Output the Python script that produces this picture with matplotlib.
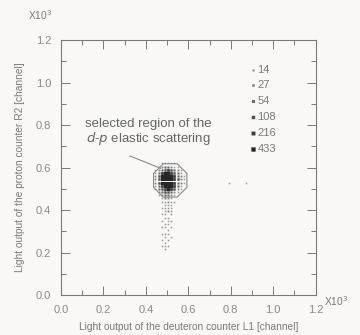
import numpy as np
import matplotlib
matplotlib.use("Agg")
import matplotlib.pyplot as plt
from matplotlib.patches import RegularPolygon
from matplotlib.ticker import MultipleLocator, FormatStrFormatter

# bin centres of the 2D histogram (x10^3 channel)
x_bins = [0.445, 0.46, 0.475, 0.49, 0.505, 0.52, 0.535, 0.55, 0.565, 0.58]
y_bins = [0.62, 0.605, 0.59, 0.575, 0.56, 0.545, 0.53, 0.515, 0.50, 0.485, 0.47,
          0.455, 0.44, 0.425, 0.41, 0.395, 0.38, 0.365, 0.35, 0.335, 0.32,
          0.305, 0.29, 0.275, 0.26, 0.245, 0.23, 0.215]
counts = [
    [0, 0, 14, 14, 14, 14, 14, 0, 0, 0],
    [0, 14, 27, 54, 54, 27, 14, 14, 0, 0],
    [14, 27, 54, 108, 216, 108, 54, 27, 14, 0],
    [14, 54, 216, 433, 433, 216, 108, 54, 14, 0],
    [27, 108, 433, 433, 433, 433, 216, 54, 27, 14],
    [27, 108, 433, 433, 433, 433, 216, 108, 27, 14],
    [27, 108, 433, 433, 433, 433, 216, 54, 27, 14],
    [14, 54, 216, 433, 433, 433, 216, 54, 14, 0],
    [14, 54, 108, 216, 433, 216, 108, 27, 14, 0],
    [0, 27, 54, 108, 108, 54, 27, 14, 0, 0],
    [0, 14, 27, 54, 54, 27, 14, 0, 0, 0],
    [0, 0, 14, 27, 27, 14, 0, 0, 0, 0],
    [0, 0, 14, 14, 27, 14, 14, 0, 0, 0],
    [0, 0, 0, 14, 14, 14, 0, 0, 0, 0],
    [0, 0, 14, 14, 14, 14, 0, 0, 0, 0],
    [0, 0, 0, 14, 27, 14, 0, 0, 0, 0],
    [0, 0, 14, 14, 0, 14, 0, 0, 0, 0],
    [0, 0, 0, 14, 14, 0, 0, 0, 0, 0],
    [0, 0, 14, 0, 14, 14, 0, 0, 0, 0],
    [0, 0, 0, 14, 14, 0, 0, 0, 0, 0],
    [0, 0, 14, 14, 0, 14, 0, 0, 0, 0],
    [0, 0, 0, 0, 14, 0, 0, 0, 0, 0],
    [0, 0, 14, 14, 14, 0, 0, 0, 0, 0],
    [0, 0, 0, 14, 0, 14, 0, 0, 0, 0],
    [0, 0, 14, 0, 14, 0, 0, 0, 0, 0],
    [0, 0, 0, 14, 0, 0, 0, 0, 0, 0],
    [0, 0, 14, 14, 14, 0, 0, 0, 0, 0],
    [0, 0, 0, 14, 0, 0, 0, 0, 0, 0],
]
# isolated entries
stray_x = [0.79, 0.87]
stray_y = [0.53, 0.53]
stray_c = [14, 14]

levels = [14, 27, 54, 108, 216, 433]
sizes = [1.3, 1.8, 2.4, 3.1, 3.9, 4.8]   # marker area (pt^2) per level
grays = ["#9a9a9a", "#858585", "#6a6a6a", "#505050", "#3a3a3a", "#262626"]

gray = "#7a7a7a"
plt.rcParams["font.family"] = ["Liberation Sans", "DejaVu Sans"]

fig = plt.figure(figsize=(3.6, 3.35), dpi=100)
fig.patch.set_facecolor("#f9f8f7")
ax = fig.add_axes([0.169, 0.119, 0.708, 0.761])
ax.set_facecolor("#f9f8f7")

xs, ys, cs = [], [], []
for j, yv in enumerate(y_bins):
    for i, xv in enumerate(x_bins):
        if counts[j][i] > 0:
            xs.append(xv)
            ys.append(yv)
            cs.append(counts[j][i])
xs += stray_x
ys += stray_y
cs += stray_c

for lv, sz, col in zip(levels, sizes, grays):
    px = [x for x, c in zip(xs, cs) if c == lv]
    py = [y for y, c in zip(ys, cs) if c == lv]
    sc = ax.scatter(px, py, s=sz, marker="s", color=col, linewidths=0)
    sc.set_snap(False)

# legend of box sizes
leg_y = [1.06, 0.99, 0.915, 0.84, 0.765, 0.69]
for lv, sz, col, yy in zip(levels, sizes, grays, leg_y):
    sc = ax.scatter([0.905], [yy], s=sz * 2.0, marker="s", color=col, linewidths=0)
    sc.set_snap(False)
    ax.text(0.925, yy, str(lv), fontsize=8, color=gray, va="center", ha="left")

# selected region
octo = RegularPolygon((0.515, 0.54), numVertices=8, radius=0.085,
                      orientation=np.pi / 8, fill=False, edgecolor="#8a8a8a", lw=0.8)
ax.add_patch(octo)
ax.plot([0.325, 0.47], [0.655, 0.597], color="#8a8a8a", lw=0.8)
ax.text(0.41, 0.765,
        "selected region of the\n" + r"$\it{d}$-$\it{p}$ elastic scattering",
        fontsize=9.5, color="#666666", ha="center", va="center", linespacing=1.0)

ax.set_xlim(0, 1.2)
ax.set_ylim(0, 1.2)
ax.xaxis.set_major_locator(MultipleLocator(0.2))
ax.yaxis.set_major_locator(MultipleLocator(0.2))
ax.xaxis.set_minor_locator(MultipleLocator(0.1))
ax.yaxis.set_minor_locator(MultipleLocator(0.1))
ax.tick_params(which="both", direction="in", top=True, right=True,
               color=gray, labelcolor="#8a8a8a", labelsize=8, width=0.7)
ax.tick_params(which="major", length=6.5, pad=7)
ax.tick_params(which="minor", length=3.5)
ax.xaxis.set_major_formatter(FormatStrFormatter("%.1f"))
ax.yaxis.set_major_formatter(FormatStrFormatter("%.1f"))
for sp in ax.spines.values():
    sp.set_color(gray)
    sp.set_linewidth(0.8)

ax.set_xlabel("Light output of the deuteron counter L1 [channel]",
              fontsize=7.3, color=gray, labelpad=5)
ax.set_ylabel("Light output of the proton counter R2 [channel]",
              fontsize=7.3, color=gray, labelpad=8)

fig.text(0.078, 0.955, r"X10$^{3}$", fontsize=7.3, color=gray, va="center")
fig.text(0.9, 0.1, r"X10$^{3}$", fontsize=7.3, color=gray, va="center")

fig.savefig("out.png", dpi=100, facecolor=fig.get_facecolor())
